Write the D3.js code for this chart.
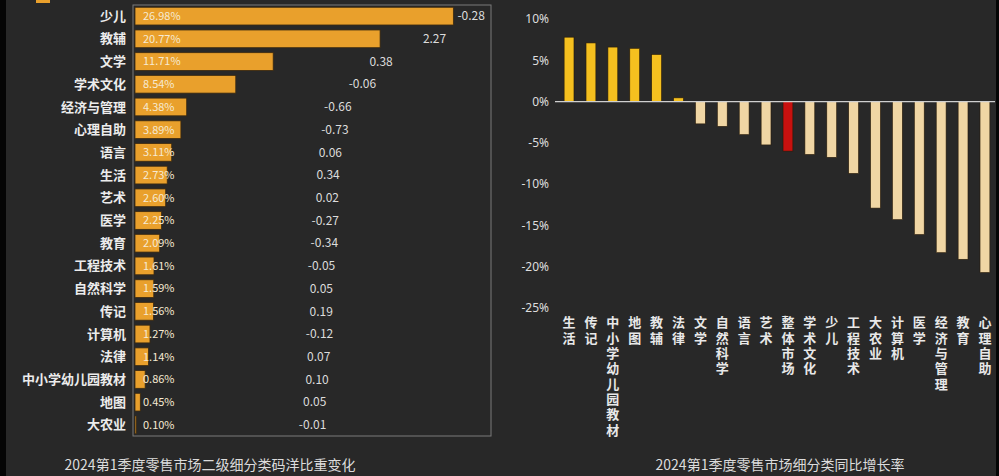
<!DOCTYPE html>
<html>
<head>
<meta charset="utf-8">
<script src="https://cdn.jsdelivr.net/npm/d3@7"></script>
<style>
  body { margin: 0; background: #282828; }
  svg { display: block; font-family: "Noto Sans CJK SC", "Noto Sans", sans-serif; }
  .vlabel { writing-mode: vertical-rl; text-orientation: upright; }
</style>
</head>
<body>
<svg id="canvas"></svg>
<script>
"use strict";

// left: share of retail value by sub-category, and change vs last year
const leftCategories = ["少儿", "教辅", "文学", "学术文化", "经济与管理", "心理自助", "语言", "生活", "艺术", "医学",
  "教育", "工程技术", "自然科学", "传记", "计算机", "法律", "中小学幼儿园教材", "地图", "大农业"];
const shares = [26.98, 20.77, 11.71, 8.54, 4.38, 3.89, 3.11, 2.73, 2.60, 2.25,
  2.09, 1.61, 1.59, 1.56, 1.27, 1.14, 0.86, 0.45, 0.10];
const changes = ["-0.28", "2.27", "0.38", "-0.06", "-0.66", "-0.73", "0.06", "0.34", "0.02", "-0.27",
  "-0.34", "-0.05", "0.05", "0.19", "-0.12", "0.07", "0.10", "0.05", "-0.01"];
const shareMax = 30;

// right: year-on-year growth rate
const rightCategories = ["生活", "传记", "中小学幼儿园教材", "地图", "教辅", "法律", "文学", "自然科学", "语言", "艺术",
  "整体市场", "学术文化", "少儿", "工程技术", "大农业", "计算机", "医学", "经济与管理", "教育", "心理自助"];
const growth = [7.8, 7.1, 6.6, 6.45, 5.7, 0.45, -2.7, -3.0, -4.0, -5.25,
  -6.0, -6.4, -6.75, -8.7, -12.9, -14.3, -16.1, -18.3, -19.1, -20.7];
const growthTicks = [10, 5, 0, -5, -10, -15, -20, -25];

const leftTitle = "2024第1季度零售市场二级细分类码洋比重变化";
const rightTitle = "2024第1季度零售市场细分类同比增长率";

const width = 999;
const height = 476;

const canvas = d3.select("#canvas").attr("width", width).attr("height", height);

canvas.append("rect").attr("width", width).attr("height", height).attr("fill", "#282828");
canvas.append("rect").attr("x", 0).attr("width", 6).attr("height", height).attr("fill", "#050505");
canvas.append("rect").attr("x", 996).attr("width", 3).attr("height", height).attr("fill", "#050505");

// ---- left chart ----
const xL = d3.scaleLinear().domain([0, shareMax]).range([135, 489]);
const yL = d3.scaleBand().domain(leftCategories).range([5, 436]).paddingInner(0.22).paddingOuter(0.1);

// cut-off legend marker
canvas.append("rect").attr("x", 36).attr("y", 0).attr("width", 14).attr("height", 3).attr("fill", "#e9a02c");

canvas.append("rect")
  .attr("x", xL(0) - 2).attr("y", yL.range()[0])
  .attr("width", xL(shareMax) - xL(0) + 4)
  .attr("height", yL.range()[1] - yL.range()[0])
  .attr("fill", "none").attr("stroke", "#7a7a7a").attr("stroke-width", 1);

const rowsL = leftCategories.map((c, i) => ({ cat: c, share: shares[i], change: changes[i] }));

canvas.append("g").selectAll("rect")
  .data(rowsL).enter().append("rect")
  .attr("x", xL(0))
  .attr("y", (d) => yL(d.cat))
  .attr("width", (d) => xL(d.share) - xL(0))
  .attr("height", yL.bandwidth())
  .attr("fill", "#e9a02c")
  .attr("stroke", "#3c2a10").attr("stroke-width", 0.8);

canvas.append("g").selectAll("text")
  .data(rowsL).enter().append("text")
  .attr("x", xL(0) - 9)
  .attr("y", (d) => yL(d.cat) + yL.bandwidth() / 2)
  .attr("dy", "0.35em")
  .attr("text-anchor", "end")
  .attr("font-size", 13).attr("font-weight", "bold")
  .attr("fill", "#ececec")
  .text((d) => d.cat);

canvas.append("g").selectAll("text")
  .data(rowsL).enter().append("text")
  .attr("x", xL(0) + 8)
  .attr("y", (d) => yL(d.cat) + yL.bandwidth() / 2)
  .attr("dy", "0.35em")
  .attr("font-size", 11)
  .attr("fill", "#f6ead2")
  .text((d) => d.share.toFixed(2) + "%");

// change labels sit in the middle of the remaining (invisible) stack
canvas.append("g").selectAll("text")
  .data(rowsL).enter().append("text")
  .attr("x", (d) => (xL(d.share) + xL(shareMax)) / 2)
  .attr("y", (d) => yL(d.cat) + yL.bandwidth() / 2)
  .attr("dy", "0.35em")
  .attr("text-anchor", "middle")
  .attr("font-size", 12)
  .attr("fill", "#dcdcdc")
  .text((d) => d.change);

canvas.append("text")
  .attr("x", 210).attr("y", 470)
  .attr("text-anchor", "middle")
  .attr("font-size", 14)
  .attr("fill", "#dcdcdc")
  .text(leftTitle);

// ---- right chart ----
const xR = d3.scaleBand().domain(rightCategories).range([558, 996]).paddingInner(0.55).paddingOuter(0.28);
const yR = d3.scaleLinear().domain([-25, 10]).range([308, 19]);

const yAxis = d3.axisLeft(yR).tickValues(growthTicks).tickSize(0).tickPadding(0)
  .tickFormat((d) => d + "%");
const gy = canvas.append("g").attr("transform", "translate(549,0)").call(yAxis);
gy.select(".domain").remove();
gy.selectAll("text")
  .attr("font-size", 12).attr("font-family", "Noto Sans, sans-serif")
  .attr("fill", "#dedede");

const rowsR = rightCategories.map((c, i) => ({ cat: c, v: growth[i] }));

canvas.append("g").selectAll("rect")
  .data(rowsR).enter().append("rect")
  .attr("x", (d) => xR(d.cat))
  .attr("y", (d) => yR(Math.max(0, d.v)))
  .attr("width", xR.bandwidth())
  .attr("height", (d) => Math.abs(yR(d.v) - yR(0)))
  .attr("fill", (d) => d.cat === "整体市场" ? "#c8110f" : (d.v >= 0 ? "#f5c01f" : "#f0d6a4"))
  .attr("stroke", "#2a1c08").attr("stroke-width", 0.6);

canvas.append("line")
  .attr("x1", 555).attr("x2", 995)
  .attr("y1", yR(0)).attr("y2", yR(0))
  .attr("stroke", "#cfcfcf").attr("stroke-width", 1.2);

// vertical category labels, one column per bar
canvas.append("g").selectAll("text")
  .data(rowsR).enter().append("text")
  .attr("class", "vlabel")
  .attr("x", (d) => xR(d.cat) + xR.bandwidth() / 2)
  .attr("y", 316)
  .attr("font-size", 13).attr("font-weight", "bold")
  .attr("letter-spacing", 2.3)
  .attr("fill", "#e8e8e8")
  .text((d) => d.cat);

canvas.append("text")
  .attr("x", 780).attr("y", 470)
  .attr("text-anchor", "middle")
  .attr("font-size", 14)
  .attr("fill", "#dcdcdc")
  .text(rightTitle);
</script>
</body>
</html>
